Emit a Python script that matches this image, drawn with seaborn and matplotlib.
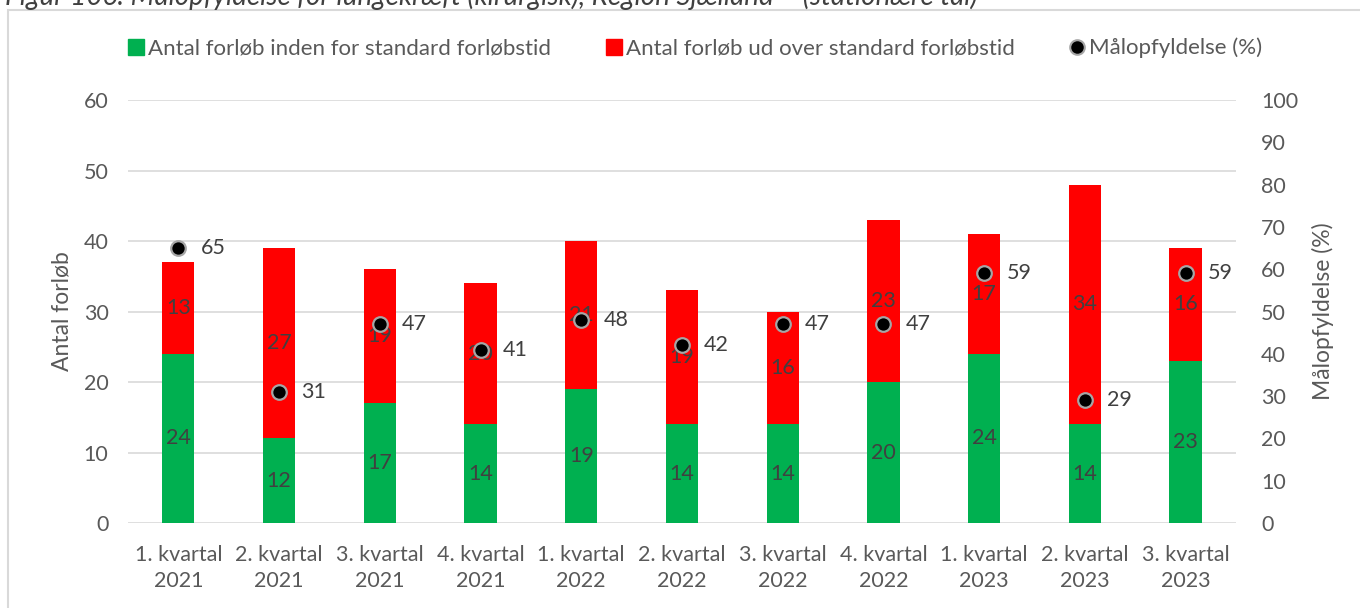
import matplotlib.pyplot as plt
from matplotlib.patches import Rectangle
from matplotlib.lines import Line2D
import numpy as np
import pandas as pd
import seaborn as sns

# quarters, counts within / beyond standard time, and goal fulfilment (%)
quarters = ["1. kvartal\n2021", "2. kvartal\n2021", "3. kvartal\n2021", "4. kvartal\n2021",
            "1. kvartal\n2022", "2. kvartal\n2022", "3. kvartal\n2022", "4. kvartal\n2022",
            "1. kvartal\n2023", "2. kvartal\n2023", "3. kvartal\n2023"]
inden = [24, 12, 17, 14, 19, 14, 14, 20, 24, 14, 23]
udover = [13, 27, 19, 20, 21, 19, 16, 23, 17, 34, 16]
maal = [65, 31, 47, 41, 48, 42, 47, 47, 59, 29, 59]

df = pd.DataFrame({"Kvartal": quarters, "Inden": inden, "Udover": udover, "Maal": maal})
df["Total"] = df["Inden"] + df["Udover"]
df["pos"] = np.arange(len(df))

green = "#00B050"
red = "#FF0000"
txt = "#595959"
lbl = "#404040"
fs = 15.5

sns.set_style("white")
plt.rcParams['font.family'] = ['Lato', 'DejaVu Sans']

fig = plt.figure(figsize=(13.6, 6.08), dpi=100)
ax = fig.add_axes([0.0941, 0.1398, 0.8147, 0.6957])
ax2 = ax.twinx()

# stacked bars: total in red, green part drawn on top
sns.barplot(data=df, x="Kvartal", y="Total", color=red, saturation=1, width=0.32,
            ax=ax, zorder=2, linewidth=0)
sns.barplot(data=df, x="Kvartal", y="Inden", color=green, saturation=1, width=0.32,
            ax=ax, zorder=3, linewidth=0)

for i, row in df.iterrows():
    ax.text(i, row["Inden"] / 2, str(row["Inden"]), ha="center", va="center",
            fontsize=fs, color=lbl, zorder=5)
    ax.text(i, row["Inden"] + row["Udover"] / 2, str(row["Udover"]), ha="center",
            va="center", fontsize=fs, color=lbl, zorder=5)

ax.set_ylim(0, 60)
ax.set_yticks(range(0, 61, 10))
ax.set_xlim(-0.5, len(df) - 0.5)
ax.yaxis.grid(True, color="#D9D9D9", linewidth=1.2, zorder=0)
ax.set_axisbelow(True)
for s in ax.spines.values():
    s.set_visible(False)
for s in ax2.spines.values():
    s.set_visible(False)
ax.tick_params(axis="x", length=0, labelsize=fs, labelcolor=txt, pad=16)
ax.tick_params(axis="y", length=0, labelsize=fs, labelcolor=txt, pad=14)
ax.set_xlabel("")
ax.set_ylabel("Antal forløb", fontsize=16.5, color=txt, labelpad=8)
ax.set_xticks(range(len(df)))
ax.set_xticklabels(quarters, linespacing=1.35)

# goal fulfilment points on secondary axis
sns.scatterplot(data=df, x="pos", y="Maal", ax=ax2, color="black", s=110,
                edgecolor="#A6A6A6", linewidth=1.6, zorder=6, legend=False)
for i, row in df.iterrows():
    ax2.annotate(str(row["Maal"]), (i, row["Maal"]), xytext=(16, 0),
                 textcoords="offset points", ha="left", va="center",
                 fontsize=fs, color=lbl)
ax2.set_ylim(0, 100)
ax2.set_yticks(range(0, 101, 10))
ax2.set_xlim(-0.5, len(df) - 0.5)
ax2.tick_params(axis="y", length=0, labelsize=fs, labelcolor=txt, pad=18)
ax2.set_ylabel("Målopfyldelse (%)", fontsize=16.5, color=txt, labelpad=10)
ax2.set_xlabel("")
ax2.grid(False)

handles = [
    Line2D([], [], marker="s", linestyle="none", markersize=11, color=green),
    Line2D([], [], marker="s", linestyle="none", markersize=11, color=red),
    Line2D([], [], marker="o", linestyle="none", markersize=10.5, markerfacecolor="black",
           markeredgecolor="#A6A6A6", markeredgewidth=1.5),
]
labels = ["Antal forløb inden for standard forløbstid",
          "Antal forløb ud over standard forløbstid",
          "Målopfyldelse (%)"]
fig.legend(handles, labels, loc="center", bbox_to_anchor=(0.51, 0.921), ncol=3,
           frameon=False, fontsize=16, labelcolor=txt, handletextpad=0.05,
           columnspacing=2.3, handlelength=1.0)

# frame around chart area and clipped caption above it
fig.patches.append(Rectangle((8 / 1360, -0.01), 1.01, 1 - 10 / 608 + 0.01,
                             transform=fig.transFigure, fill=False,
                             edgecolor="#D9D9D9", linewidth=1.5))
fig.text(0.004, 1 - 5 / 608, "Figur 106: Målopfyldelse for lungekræft (kirurgisk), Region Sjælland – (stationære tal)",
         ha="left", va="baseline", fontsize=20, style="italic", color="#404040")

fig.savefig("out.png", dpi=100)
